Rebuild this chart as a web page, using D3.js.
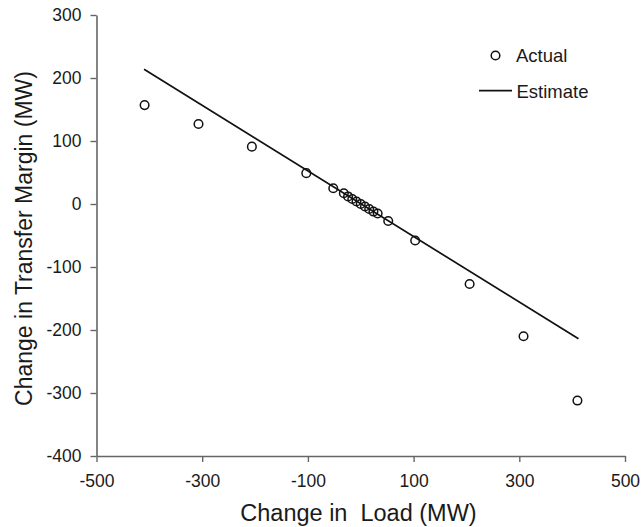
<!DOCTYPE html>
<html>
<head>
<meta charset="utf-8">
<script src="https://cdn.jsdelivr.net/npm/d3@7/dist/d3.min.js"></script>
<style>
  html, body { margin: 0; padding: 0; background: #fff; }
  svg { display: block; font-family: "Liberation Sans", Arial, Helvetica, sans-serif; }
</style>
</head>
<body>
<svg id="chart" width="641" height="527"></svg>
<script>
// ---- Data ----
const actualX = [-409, -307, -206, -103, -52, -32, -24, -16, -8, 0, 8, 16, 24, 32, 52, 103, 206, 308, 410];
const actualY = [157, 127, 91, 49, 25, 17, 12, 8, 4, 0, -4, -8, -12, -15, -27, -58, -127, -210, -312];
const estimateX = [-410, 412];
const estimateY = [214, -214];
const xTicks = [-500, -300, -100, 100, 300, 500];
const yTicks = [-400, -300, -200, -100, 0, 100, 200, 300];
const xTitle = "Change in  Load (MW)";
const yTitle = "Change in Transfer Margin (MW)";
const legendLabels = ["Actual", "Estimate"];

// ---- Chart ----
const svg = d3.select("#chart");
const x = d3.scaleLinear().domain([-500, 500]).range([96.5, 625]);
const y = d3.scaleLinear().domain([-400, 300]).range([456, 15]);
const axisColor = "#666";
const textColor = "#1a1a1a";
const fmt = d => String(d);

// Axes
const gx = svg.append("g").attr("transform", `translate(0,${y(-400)})`)
  .call(d3.axisBottom(x).tickValues(xTicks).tickFormat(fmt).tickSize(6).tickPadding(13).tickSizeOuter(0));
const gy = svg.append("g").attr("transform", `translate(${x(-500)},0)`)
  .call(d3.axisLeft(y).tickValues(yTicks).tickFormat(fmt).tickSize(6).tickPadding(9).tickSizeOuter(0));
[gx, gy].forEach(g => {
  g.select(".domain").attr("stroke", axisColor).attr("stroke-width", 1.6);
  g.selectAll(".tick line").attr("stroke", axisColor).attr("stroke-width", 1.4);
  g.selectAll(".tick text").attr("fill", textColor).style("font-size", "17.5px");
});

// Estimate line
const line = d3.line().x(d => x(d[0])).y(d => y(d[1]));
svg.append("path")
  .datum(estimateX.map((v, i) => [v, estimateY[i]]))
  .attr("d", line)
  .attr("fill", "none")
  .attr("stroke", "#111")
  .attr("stroke-width", 1.7);

// Actual points
svg.append("g").selectAll("circle")
  .data(actualX.map((v, i) => [v, actualY[i]]))
  .join("circle")
  .attr("cx", d => x(d[0]))
  .attr("cy", d => y(d[1]))
  .attr("r", 4.3)
  .attr("fill", "none")
  .attr("stroke", "#111")
  .attr("stroke-width", 1.5);

// Axis titles
svg.append("text")
  .attr("x", (239 + 478) / 2)
  .attr("y", 521)
  .attr("text-anchor", "middle")
  .style("white-space", "pre")
  .attr("fill", textColor)
  .style("font-size", "23.5px")
  .text(xTitle);

svg.append("text")
  .attr("transform", `translate(32,238.5) rotate(-90)`)
  .attr("text-anchor", "middle")
  .attr("fill", textColor)
  .style("font-size", "23px")
  .text(yTitle);

// Legend
const lg = svg.append("g");
lg.append("circle").attr("cx", 495.5).attr("cy", 55.5).attr("r", 4.3)
  .attr("fill", "none").attr("stroke", "#111").attr("stroke-width", 1.5);
lg.append("text").attr("x", 516).attr("y", 61.7)
  .attr("fill", textColor).style("font-size", "18.5px").text(legendLabels[0]);
lg.append("line").attr("x1", 479).attr("x2", 512).attr("y1", 90.7).attr("y2", 90.7)
  .attr("stroke", "#111").attr("stroke-width", 1.7);
lg.append("text").attr("x", 516.5).attr("y", 97.5)
  .attr("fill", textColor).style("font-size", "18.5px").text(legendLabels[1]);
</script>
</body>
</html>
